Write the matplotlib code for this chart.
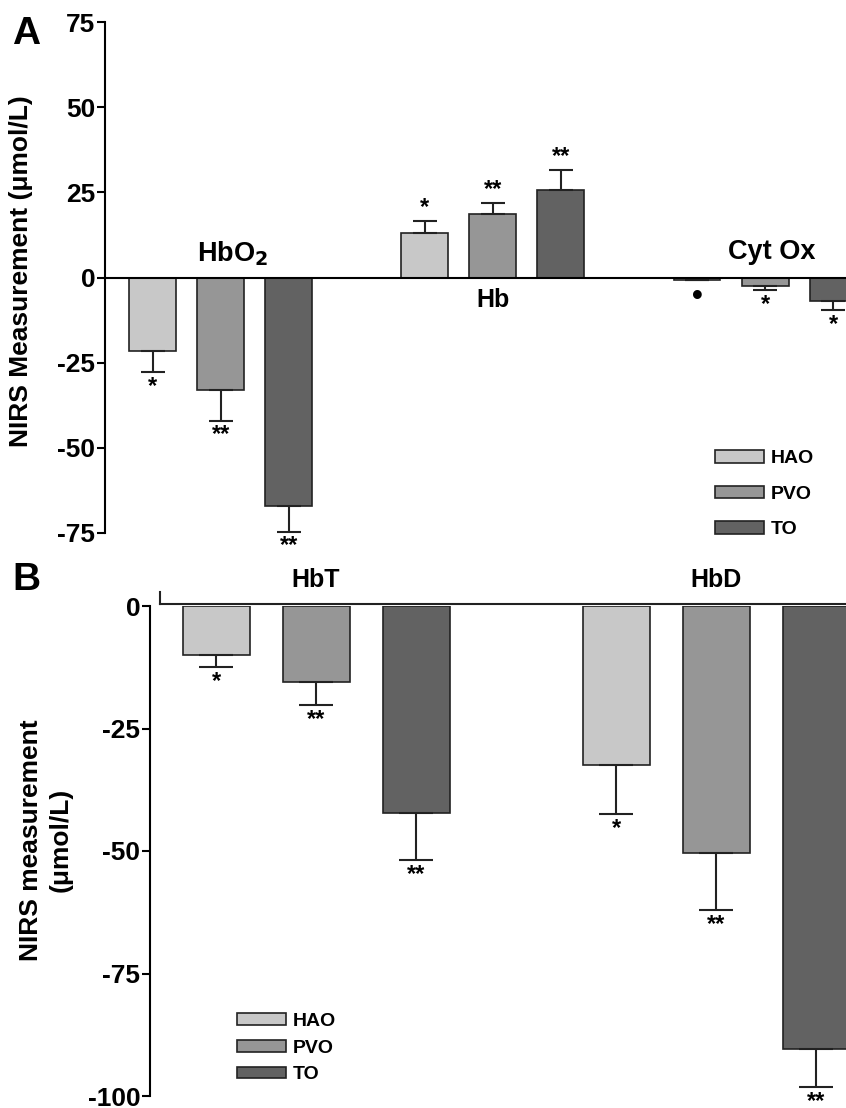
import matplotlib.pyplot as plt
import numpy as np

plt.rcParams['font.family'] = ['Liberation Sans', 'DejaVu Sans']
plt.rcParams['font.weight'] = 'bold'
plt.rcParams['axes.unicode_minus'] = False

series = ["HAO", "PVO", "TO"]
colors = ["#c8c8c8", "#969696", "#626262"]

# panel A
groups_a = ["HbO$_\\mathbf{2}$", "Hb", "Cyt Ox"]
vals_a = {"HAO": [-21.7, 13.2, -0.6], "PVO": [-33.0, 18.5, -2.6], "TO": [-67.0, 25.8, -7.0]}
errs_a = {"HAO": [6.0, 3.5, 0.0], "PVO": [9.0, 3.5, 1.1], "TO": [7.6, 5.9, 2.6]}
sig_a = {"HAO": ["*", "*", "\u2022"], "PVO": ["**", "**", "*"], "TO": ["**", "**", "*"]}

# panel B
groups_b = ["HbT", "HbD"]
vals_b = {"HAO": [-9.9, -32.4], "PVO": [-15.6, -50.4], "TO": [-42.3, -90.5]}
errs_b = {"HAO": [2.6, 10.0], "PVO": [4.7, 11.7], "TO": [9.5, 7.7]}
sig_b = {"HAO": ["*", "*"], "PVO": ["**", "**"], "TO": ["**", "**"]}

fig = plt.figure(figsize=(8.46, 11.08), dpi=100)


def draw_bars(ax, vals, errs, sigs, width, capsize, star_off):
    for i, s in enumerate(series):
        v = np.array(vals[s])
        e = np.array(errs[s])
        x = np.arange(len(v)) * 4 + i
        ax.bar(x, v, width, color=colors[i], edgecolor="#222222", linewidth=1.2, label=s, zorder=2)
        lo = np.where(v < 0, e, 0)
        hi = np.where(v >= 0, e, 0)
        ax.errorbar(x, v, yerr=[lo, hi], fmt="none", ecolor="#222222", elinewidth=1.5,
                    capsize=capsize, capthick=1.5, zorder=3)
        for xi, vi, ei, st in zip(x, v, e, sigs[s]):
            if vi >= 0:
                ax.annotate(st, (xi, vi + ei), xytext=(0, 1), textcoords="offset points",
                            ha="center", va="bottom", fontsize=17, annotation_clip=False)
            else:
                ax.annotate(st, (xi, vi - ei), xytext=(0, -star_off), textcoords="offset points",
                            ha="center", va="top", fontsize=17 if st != "\u2022" else 22,
                            annotation_clip=False)


# ---- A ----
axA = fig.add_axes([105 / 846, 1 - 533 / 1108, 741 / 846, 511 / 1108])
draw_bars(axA, vals_a, errs_a, sig_a, 0.69, 8.5, 2)
axA.set_xlim(-0.7, 10.19)
axA.set_ylim(-75, 75)
axA.set_yticks([75, 50, 25, 0, -25, -50, -75])
axA.spines["top"].set_visible(False)
axA.spines["right"].set_visible(False)
axA.spines["bottom"].set_position(("data", 0))
axA.spines["left"].set_linewidth(1.5)
axA.spines["bottom"].set_linewidth(1.5)
axA.set_xticks([])
axA.tick_params(axis="y", length=6, width=1.5, labelsize=19, pad=1)
axA.set_ylabel("NIRS Measurement (\u03bcmol/L)", fontsize=19, fontweight="bold")
axA.yaxis.set_label_coords(-72 / 741, (533 - 271) / 511)
axA.text(1.18, 7, groups_a[0], ha="center", va="center", fontsize=19.5, fontweight="bold")
axA.text(5.0, -6.5, groups_a[1], ha="center", va="center", fontsize=18, fontweight="bold")
axA.text(9.1, 7.6, groups_a[2], ha="center", va="center", fontsize=19.5, fontweight="bold")
axA.legend(loc="lower left", bbox_to_anchor=(0.8, -0.045), frameon=False, fontsize=14,
           handlelength=2.5, handleheight=0.6, labelspacing=0.95, handletextpad=0.35)
fig.text(12 / 846, 1 - 34 / 1108, "A", fontsize=28, fontweight="bold", va="center")

# ---- B ----
axB = fig.add_axes([150 / 846, 1 - 1096 / 1108, 696 / 846, 490 / 1108])
draw_bars(axB, vals_b, errs_b, sig_b, 0.67, 12, 2)
axB.set_xlim(-0.66, 6.3)
axB.set_ylim(-100, 0)
axB.set_yticks([0, -25, -50, -75, -100])
for sp in ["top", "right", "bottom"]:
    axB.spines[sp].set_visible(False)
axB.spines["left"].set_linewidth(1.5)
axB.set_xticks([])
axB.tick_params(axis="y", length=6, width=1.5, labelsize=19, pad=1)
axB.plot([-0.56, 6.3], [0.4, 0.4], color="#222222", lw=1.5, clip_on=False, zorder=4)
axB.plot([-0.56, -0.56], [0.4, 2.8], color="#222222", lw=1.5, clip_on=False, zorder=4)
axB.set_ylabel("NIRS measurement\n(\u03bcmol/L)", fontsize=19, fontweight="bold", linespacing=1.3)
axB.yaxis.set_label_coords(-77 / 696, (1096 - 840) / 490)
axB.text(1.0, 5.3, groups_b[0], ha="center", va="center", fontsize=18, fontweight="bold")
axB.text(5.0, 5.3, groups_b[1], ha="center", va="center", fontsize=18, fontweight="bold")
axB.legend(loc="lower left", bbox_to_anchor=(0.1, -0.01), frameon=False, fontsize=14,
           handlelength=2.5, handleheight=0.55, labelspacing=0.5, handletextpad=0.35)
fig.text(12 / 846, 1 - 580 / 1108, "B", fontsize=28, fontweight="bold", va="center")

fig.savefig("out.png", dpi=100)
